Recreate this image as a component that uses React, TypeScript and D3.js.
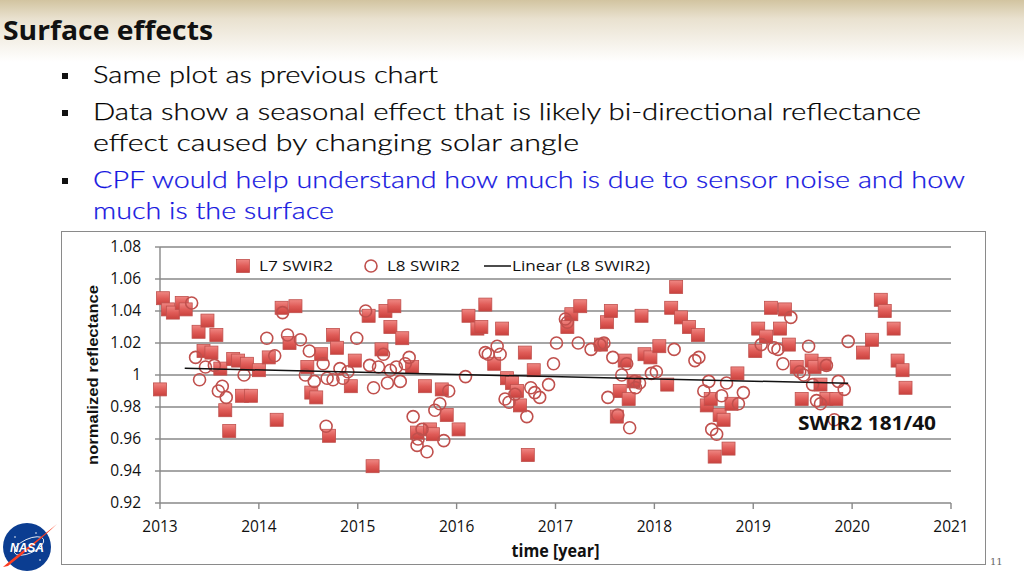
import React from "react";
import * as d3 from "d3";

// ---------- data ----------
const yTicks = [0.92, 0.94, 0.96, 0.98, 1.0, 1.02, 1.04, 1.06, 1.08];
const yTickLabels = ["0.92", "0.94", "0.96", "0.98", "1", "1.02", "1.04", "1.06", "1.08"];
const xTicks = [2013, 2014, 2015, 2016, 2017, 2018, 2019, 2020, 2021];

// L7 SWIR2 (filled squares): [decimal year, normalized reflectance]
const l7Swir2: [number, number][] = [
  [2013.0, 0.991], [2013.03, 1.048], [2013.08, 1.041], [2013.13, 1.039], [2013.22, 1.045],
  [2013.26, 1.041], [2013.39, 1.027], [2013.44, 1.015], [2013.48, 1.034], [2013.52, 1.014],
  [2013.57, 1.025], [2013.61, 1.004], [2013.66, 0.978], [2013.7, 0.965], [2013.74, 1.01],
  [2013.79, 1.009], [2013.83, 0.987], [2013.88, 1.007], [2013.92, 0.987], [2014.0, 1.003],
  [2014.1, 1.011], [2014.18, 0.972], [2014.23, 1.042], [2014.31, 1.02], [2014.37, 1.043],
  [2014.49, 1.005], [2014.53, 0.989], [2014.58, 0.986], [2014.63, 1.013], [2014.71, 0.962],
  [2014.75, 1.025], [2014.79, 1.017], [2014.93, 0.993], [2014.97, 1.009], [2015.11, 1.037],
  [2015.15, 0.943], [2015.24, 1.016], [2015.28, 1.04], [2015.33, 1.03], [2015.37, 1.043],
  [2015.45, 1.023], [2015.55, 1.005], [2015.6, 0.964], [2015.68, 0.993], [2015.73, 0.966],
  [2015.76, 0.963], [2015.85, 0.991], [2015.9, 0.975], [2016.02, 0.966], [2016.12, 1.037],
  [2016.21, 1.029], [2016.25, 1.03], [2016.29, 1.044], [2016.38, 1.007], [2016.46, 1.029],
  [2016.51, 0.998], [2016.56, 0.995], [2016.61, 0.99], [2016.64, 0.981], [2016.69, 1.014],
  [2016.72, 0.95], [2016.78, 1.003], [2017.12, 1.03], [2017.16, 1.038], [2017.25, 1.043],
  [2017.46, 1.019], [2017.52, 1.033], [2017.56, 1.04], [2017.62, 0.974], [2017.65, 0.99],
  [2017.7, 1.009], [2017.74, 0.985], [2017.79, 0.996], [2017.87, 1.037], [2017.9, 1.013],
  [2017.96, 1.011], [2018.05, 1.018], [2018.13, 0.994], [2018.17, 1.042], [2018.22, 1.055],
  [2018.27, 1.036], [2018.35, 1.03], [2018.44, 1.025], [2018.53, 0.981], [2018.57, 0.985],
  [2018.61, 0.949], [2018.66, 0.975], [2018.7, 0.972], [2018.75, 0.954], [2018.78, 0.982],
  [2018.84, 1.001], [2019.02, 1.015], [2019.05, 1.029], [2019.13, 1.024], [2019.18, 1.042],
  [2019.27, 1.029], [2019.32, 1.041], [2019.36, 1.019], [2019.44, 1.005], [2019.49, 0.985],
  [2019.59, 1.009], [2019.62, 1.005], [2019.68, 0.994], [2019.72, 1.007], [2019.74, 0.985],
  [2019.84, 0.985], [2020.11, 1.014], [2020.2, 1.022], [2020.29, 1.047], [2020.33, 1.04],
  [2020.42, 1.029], [2020.46, 1.009], [2020.51, 1.003], [2020.54, 0.992],
];

// L8 SWIR2 (open circles)
const l8Swir2: [number, number][] = [
  [2013.32, 1.045], [2013.36, 1.011], [2013.4, 0.997], [2013.46, 1.005], [2013.55, 1.006],
  [2013.59, 0.99], [2013.63, 0.993], [2013.67, 0.986], [2013.85, 1.0], [2014.08, 1.023],
  [2014.16, 1.012], [2014.24, 1.039], [2014.29, 1.025], [2014.42, 1.022], [2014.47, 1.0],
  [2014.51, 1.015], [2014.56, 0.996], [2014.65, 1.007], [2014.68, 0.968], [2014.69, 0.998],
  [2014.75, 0.997], [2014.82, 1.004], [2014.85, 0.998], [2014.9, 1.002], [2014.99, 1.023],
  [2015.08, 1.04], [2015.12, 1.006], [2015.16, 0.992], [2015.21, 1.005], [2015.26, 1.013],
  [2015.3, 0.995], [2015.33, 1.003], [2015.39, 1.005], [2015.43, 0.996], [2015.48, 1.007],
  [2015.52, 1.011], [2015.56, 0.974], [2015.6, 0.956], [2015.61, 0.96], [2015.65, 0.966],
  [2015.7, 0.952], [2015.78, 0.978], [2015.83, 0.982], [2015.87, 0.959], [2015.92, 0.99],
  [2016.09, 0.999], [2016.29, 1.014], [2016.32, 1.013], [2016.41, 1.018], [2016.44, 1.013],
  [2016.49, 0.985], [2016.53, 0.983], [2016.59, 0.988], [2016.71, 0.974], [2016.75, 0.992],
  [2016.79, 0.989], [2016.84, 0.986], [2016.93, 0.994], [2016.98, 1.007], [2017.01, 1.02],
  [2017.1, 1.035], [2017.12, 1.033], [2017.23, 1.02], [2017.36, 1.016], [2017.45, 1.019],
  [2017.49, 1.02], [2017.53, 0.986], [2017.58, 1.011], [2017.63, 0.975], [2017.67, 1.0],
  [2017.72, 1.007], [2017.75, 0.967], [2017.8, 0.996], [2017.81, 0.992], [2017.85, 0.995],
  [2017.97, 1.001], [2018.02, 1.002], [2018.2, 1.016], [2018.41, 1.009], [2018.45, 1.011],
  [2018.5, 0.99], [2018.55, 0.996], [2018.58, 0.966], [2018.63, 0.963], [2018.68, 0.987],
  [2018.73, 0.995], [2018.85, 0.982], [2018.9, 0.989], [2019.08, 1.019], [2019.21, 1.017],
  [2019.25, 1.016], [2019.3, 1.007], [2019.38, 1.036], [2019.47, 1.002], [2019.51, 1.0],
  [2019.56, 1.018], [2019.6, 0.994], [2019.64, 0.984], [2019.68, 0.982], [2019.74, 1.006],
  [2019.82, 0.972], [2019.86, 0.996], [2019.92, 0.991], [2019.96, 1.021],
];

// Linear trend of L8 SWIR2 (end points)
const l8Trend: [number, number][] = [[2013.25, 1.0042], [2019.96, 0.9948]];

const bulletLines = [
  { text: "Same plot as previous chart", bullet: true, color: "#000", len: 345 },
  { text: "Data show a seasonal effect that is likely bi-directional reflectance", bullet: true, color: "#000", len: 828 },
  { text: "effect caused by changing solar angle", bullet: false, color: "#000", len: 486 },
  { text: "CPF would help understand how much is due to sensor noise and how", bullet: true, color: "#1414e0", len: 872 },
  { text: "much is the surface", bullet: false, color: "#1414e0", len: 241 },
];
const bulletBaselines = [83, 120, 151, 188, 219];

export default function App() {
  const x = d3.scaleLinear().domain([2013, 2021]).range([160, 951]);
  const y = d3.scaleLinear().domain([0.92, 1.08]).range([503, 247]);
  const trendLine = d3.line<[number, number]>().x((d) => x(d[0])).y((d) => y(d[1]));
  const sq = 13;
  const sans = "'Open Sans', 'Liberation Sans', sans-serif";
  const gothic = "'Lato', 'Open Sans', sans-serif";

  return (
    <svg width={1024} height={576} style={{ position: "absolute", left: 0, top: 0, background: "#fff" }}
      xmlns="http://www.w3.org/2000/svg">
      <defs>
        <linearGradient id="banner" x1="0" y1="0" x2="0" y2="1">
          <stop offset="0" stopColor="#d2c4a0" />
          <stop offset="0.3" stopColor="#e9e1cf" />
          <stop offset="1" stopColor="#ffffff" />
        </linearGradient>
        <linearGradient id="sqGrad" x1="0" y1="0" x2="0" y2="1">
          <stop offset="0" stopColor="#ef8783" />
          <stop offset="0.5" stopColor="#e05c58" />
          <stop offset="1" stopColor="#c9413d" />
        </linearGradient>
      </defs>
      <rect x={0} y={0} width={1024} height={62} fill="url(#banner)" />

      {/* title */}
      <text x={3} y={40} fontFamily={sans} fontWeight={700} fontSize={27} fill="#111"
        textLength={210} lengthAdjust="spacingAndGlyphs">Surface effects</text>

      {/* bullets */}
      {bulletLines.map((l, i) => (
        <g key={i}>
          {l.bullet && <rect x={62} y={bulletBaselines[i] - 10} width={6} height={6} fill="#111" />}
          <text x={93} y={bulletBaselines[i]} fontFamily={gothic} fontWeight={300} fontSize={24} fill={l.color}
            stroke={l.color} strokeWidth={0.25}
            textLength={l.len} lengthAdjust="spacingAndGlyphs">{l.text}</text>
        </g>
      ))}

      {/* chart frame */}
      <rect x={61.5} y={231.5} width={924} height={333} fill="#fff" stroke="#8a8a8a" strokeWidth={1} />

      {/* gridlines */}
      {yTicks.map((t) => (
        <line key={t} x1={160} x2={951} y1={y(t)} y2={y(t)} stroke="#888" strokeWidth={1.4} />
      ))}
      <line x1={160} x2={160} y1={247} y2={503} stroke="#888" strokeWidth={1.4} />
      {yTicks.map((t, i) => (
        <g key={"yl" + t}>
          <line x1={155} x2={160} y1={y(t)} y2={y(t)} stroke="#888" strokeWidth={1.4} />
          <text x={141} y={y(t)} dy="0.35em" textAnchor="end" fontFamily={sans} fontSize={15.5} fill="#111">
            {yTickLabels[i]}
          </text>
        </g>
      ))}
      {xTicks.map((t) => (
        <g key={"xl" + t}>
          <line x1={x(t)} x2={x(t)} y1={503} y2={509} stroke="#888" strokeWidth={1.4} />
          <text x={x(t)} y={527} dy="0.35em" textAnchor="middle" fontFamily={sans} fontSize={15.5} fill="#111">
            {t}
          </text>
        </g>
      ))}

      {/* axis titles */}
      <text transform="translate(98,375) rotate(-90)" textAnchor="middle" fontFamily="'Liberation Sans', Arial, sans-serif"
        fontWeight={700} fontSize={15} fill="#111" textLength={180} lengthAdjust="spacingAndGlyphs">
        normalized reflectance
      </text>
      <text x={555.5} y={551} dy="0.35em" textAnchor="middle" fontFamily={sans} fontWeight={700} fontSize={17} fill="#111"
        textLength={88} lengthAdjust="spacingAndGlyphs">time [year]</text>

      {/* L7 squares */}
      {l7Swir2.map((d, i) => (
        <rect key={"a" + i} x={x(d[0]) - sq / 2} y={y(d[1]) - sq / 2} width={sq} height={sq}
          fill="url(#sqGrad)" stroke="#c0504d" strokeWidth={0.8} />
      ))}
      {/* L8 circles */}
      {l8Swir2.map((d, i) => (
        <circle key={"b" + i} cx={x(d[0])} cy={y(d[1])} r={6} fill="none" stroke="#c0504d" strokeWidth={1.6} />
      ))}
      {/* trend */}
      <path d={trendLine(l8Trend) || ""} fill="none" stroke="#111" strokeWidth={1.5} />

      {/* legend */}
      <rect x={243 - sq / 2} y={266 - sq / 2} width={sq} height={sq} fill="url(#sqGrad)" stroke="#c0504d" strokeWidth={0.8} />
      <text x={259} y={266} dy="0.35em" fontFamily={sans} fontSize={15} fill="#111" textLength={74} lengthAdjust="spacingAndGlyphs">L7 SWIR2</text>
      <circle cx={371} cy={266} r={6} fill="none" stroke="#c0504d" strokeWidth={1.6} />
      <text x={387} y={266} dy="0.35em" fontFamily={sans} fontSize={15} fill="#111" textLength={73} lengthAdjust="spacingAndGlyphs">L8 SWIR2</text>
      <line x1={484} x2={511} y1={266} y2={266} stroke="#111" strokeWidth={1.5} />
      <text x={512} y={266} dy="0.35em" fontFamily={sans} fontSize={15} fill="#111" textLength={138} lengthAdjust="spacingAndGlyphs">Linear (L8 SWIR2)</text>

      {/* annotation */}
      <text x={798} y={423} dy="0.35em" fontFamily={sans} fontWeight={700} fontSize={19} fill="#111"
        textLength={138} lengthAdjust="spacingAndGlyphs">SWIR2 181/40</text>

      {/* page number */}
      <text x={990} y={565} fontFamily="'DejaVu Serif', serif" fontSize={10} fill="#666">11</text>

      {/* NASA logo */}
      <g>
        <circle cx={27} cy={547} r={24} fill="#0b3d91" />
        <ellipse cx={29} cy={546} rx={16} ry={7} fill="none" stroke="#fff" strokeWidth={0.8} transform="rotate(-25 29 546)" />
        <path d="M3,567 C20,552 38,540 57,524 C42,538 28,550 8,566 Z" fill="#fc3d21" />
        <text x={27} y={552} textAnchor="middle" fontFamily="'Liberation Sans', Arial, sans-serif" fontWeight={700}
          fontStyle="italic" fontSize={12} fill="#fff">NASA</text>
        <circle cx={15} cy={537} r={0.8} fill="#fff" />
        <circle cx={36} cy={533} r={0.8} fill="#fff" />
        <circle cx={40} cy={560} r={0.8} fill="#fff" />
      </g>
    </svg>
  );
}
